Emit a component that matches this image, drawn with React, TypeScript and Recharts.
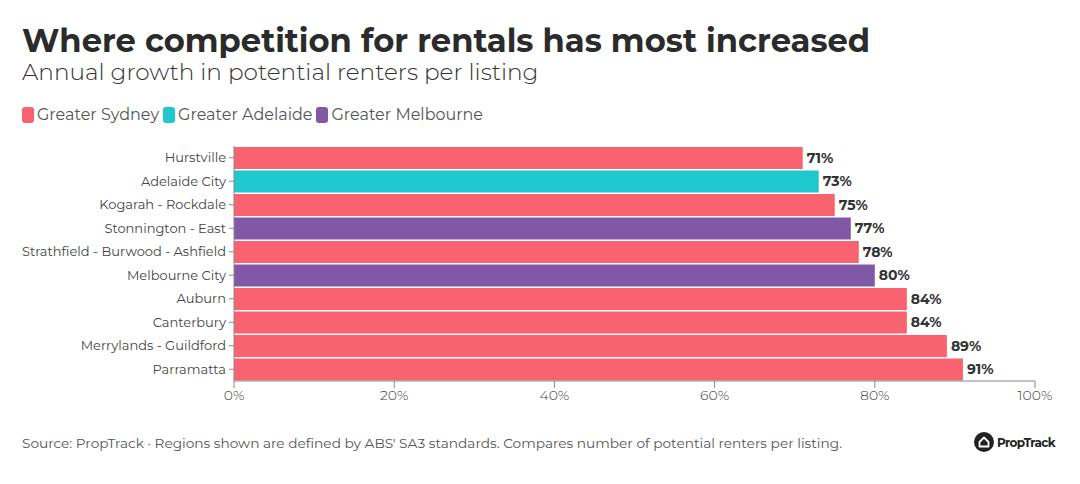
import { BarChart, Bar, XAxis, YAxis, Cell, LabelList } from 'recharts'

const regions = [
  'Hurstville', 'Adelaide City', 'Kogarah - Rockdale', 'Stonnington - East',
  'Strathfield - Burwood - Ashfield', 'Melbourne City', 'Auburn', 'Canterbury',
  'Merrylands - Guildford', 'Parramatta',
]
const growth = [71, 73, 75, 77, 78, 80, 84, 84, 89, 91]
const city = ['Sydney', 'Adelaide', 'Sydney', 'Melbourne', 'Sydney', 'Melbourne', 'Sydney', 'Sydney', 'Sydney', 'Sydney']
const legendNames = ['Greater Sydney', 'Greater Adelaide', 'Greater Melbourne']
const xTicks = [0, 20, 40, 60, 80, 100]

const colors: Record<string, string> = {
  Sydney: '#f9636f',
  Adelaide: '#1fc8cc',
  Melbourne: '#8158a6',
}
const legendColors = [colors.Sydney, colors.Adelaide, colors.Melbourne]

const data = regions.map((r, i) => ({ region: r, value: growth[i], city: city[i] }))

const font = 'Montserrat, "Open Sans", Lato, sans-serif'

function Logo() {
  return (
    <div style={{ position: 'absolute', left: 974, top: 432, display: 'flex', alignItems: 'center', gap: 3 }}>
      <svg width={20} height={20} viewBox="0 0 20 20">
        <circle cx={10} cy={10} r={10} fill="#222" />
        <path d="M5.5 10 L10 5.5 L14.5 10 L14.5 14.5 L5.5 14.5 Z" fill="none" stroke="#fff" strokeWidth={1.8} strokeLinejoin="round" />
      </svg>
      <span style={{ fontFamily: font, fontWeight: 700, fontSize: 12, color: '#222', letterSpacing: -0.6 }}>PropTrack</span>
    </div>
  )
}

export default function App() {
  return (
    <div style={{ position: 'fixed', left: 0, top: 0, width: 1080, height: 484, background: '#fff', fontFamily: font }}>
      <div style={{ position: 'absolute', left: 22, top: 21, fontSize: 32.2, fontWeight: 700, color: '#2b2b2b', whiteSpace: 'nowrap' }}>
        Where competition for rentals has most increased
      </div>
      <div style={{ position: 'absolute', left: 22, top: 58, fontSize: 23.2, fontWeight: 300, color: '#333', whiteSpace: 'nowrap' }}>
        Annual growth in potential renters per listing
      </div>
      <div style={{ position: 'absolute', left: 22, top: 105, display: 'flex', alignItems: 'center', fontSize: 16, color: '#555' }}>
        {legendNames.map((n, i) => (
          <div key={n} style={{ display: 'flex', alignItems: 'center', marginRight: 4 }}>
            <span style={{ width: 12, height: 16, borderRadius: 3, background: legendColors[i], display: 'inline-block', marginRight: 3 }} />
            <span>{n}</span>
          </div>
        ))}
      </div>
      <div style={{ position: 'absolute', left: 0, top: 0 }}>
        <BarChart
          width={1080}
          height={484}
          data={data}
          layout="vertical"
          margin={{ top: 146, right: 45, bottom: 73, left: 0 }}
          barCategoryGap={1}
        >
          <XAxis
            type="number"
            domain={[0, 100]}
            ticks={xTicks}
            tickFormatter={(v) => `${v}%`}
            tick={{ fontSize: 14, fill: '#444', fontFamily: font, fontWeight: 300 }}
            stroke="#888"
            tickSize={7}
            height={30}
          />
          <YAxis
            type="category"
            dataKey="region"
            width={234}
            tick={{ fontSize: 13, fill: '#444', fontFamily: font }}
            stroke="#888"
            tickSize={5}
            tickMargin={3}
            interval={0}
          />
          <Bar dataKey="value" isAnimationActive={false}>
            {data.map((d) => (
              <Cell key={d.region} fill={colors[d.city]} />
            ))}
            <LabelList
              dataKey="value"
              position="right"
              offset={4}
              formatter={(v: number) => `${v}%`}
              style={{ fontSize: 14, fontWeight: 700, fill: '#333', fontFamily: font }}
            />
          </Bar>
        </BarChart>
      </div>
      <div style={{ position: 'absolute', left: 22, top: 435, fontSize: 13.7, color: '#555', whiteSpace: 'nowrap' }}>
        Source: PropTrack · Regions shown are defined by ABS' SA3 standards. Compares number of potential renters per listing.
      </div>
      <Logo />
    </div>
  )
}
